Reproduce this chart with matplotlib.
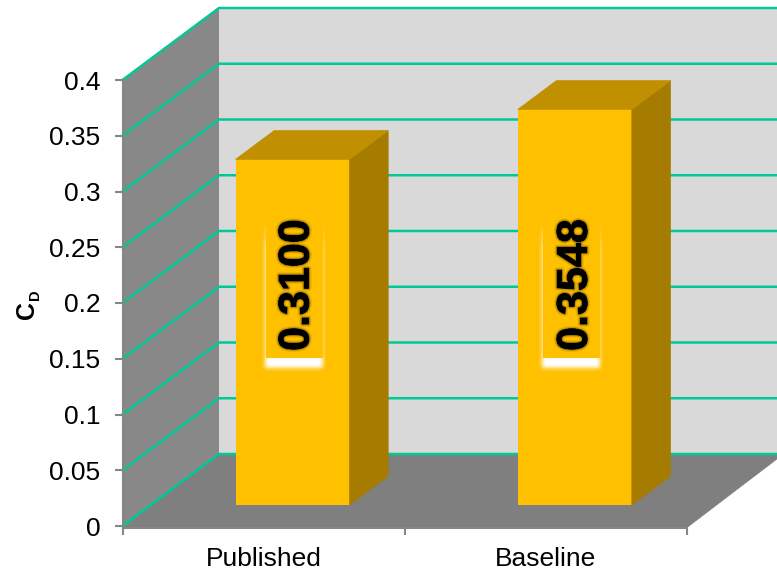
import numpy as np
import matplotlib
matplotlib.use('Agg')
import matplotlib.pyplot as plt
from matplotlib.patches import Polygon
import matplotlib.patheffects as pe

plt.rcParams['font.family'] = ['Liberation Sans', 'DejaVu Sans']

categories = ['Published', 'Baseline']
cd_values = [0.3100, 0.3548]
cd_labels = ['0.3100', '0.3548']
y_ticks = [0, 0.05, 0.1, 0.15, 0.2, 0.25, 0.3, 0.35, 0.4]
y_tick_labels = ['0', '0.05', '0.1', '0.15', '0.2', '0.25', '0.3', '0.35', '0.4']

WALL = '#888888'
FLOOR = '#7f7f7f'
BACK = '#d9d9d9'
GRID = '#00c896'
BAR = '#ffc000'
BAR_TOP = '#c09000'
BAR_SIDE = '#a67c00'
AXIS = '#868686'

fig = plt.figure(figsize=(7.77, 5.70), dpi=100)
ax = fig.add_axes([122.5 / 777, 44 / 570, 564.5 / 777, 446 / 570])
ax.patch.set_visible(False)

# size of one pixel in data units, used for the oblique depth
px_x = 1 / 282.25
px_y = 1 / 1115
DX = 96.5 * px_x
DY = 72 * px_y


def shift(x, y, d):
    return (x + d * DX, y + d * DY)


def quad(p1, p2, p3, p4, color, z):
    ax.add_patch(Polygon([p1, p2, p3, p4], closed=True, fc=color, ec=color, lw=0.5,
                         zorder=z, clip_on=False))


y_max = y_ticks[-1]

# walls and floor
quad(shift(0, 0, 0), shift(0, 0, 1), shift(0, y_max, 1), shift(0, y_max, 0), WALL, 1)
quad(shift(0, 0, 1), shift(2, 0, 1), shift(2, y_max, 1), shift(0, y_max, 1), BACK, 1)
quad(shift(0, -1.5 * px_y, 0), shift(2, -1.5 * px_y, 0), shift(2, 0, 1), shift(0, 0, 1), FLOOR, 1)

# gridlines run along the left wall and across the back
for t in y_ticks:
    x0, y0 = shift(0, t, 0)
    x1, y1 = shift(0, t, 1)
    x2, y2 = shift(2, t, 1)
    ax.plot([x0, x1, x2], [y0, y1, y2], color=GRID, lw=1.8, zorder=2, clip_on=False,
            solid_joinstyle='miter')

# bars
bar_width = 114 * px_x
front = 0.30
back = 0.70

# the labels sit slightly off the bar centres (pixels)
glow_shift = [1, -4]
text_shift = [5, 1]

for i, (value, label) in enumerate(zip(cd_values, cd_labels)):
    centre = i + 0.5
    x_left, y_base = shift(centre - bar_width / 2, 0, front)
    y_base = 21 * px_y
    x_right = x_left + bar_width
    y_top = y_base + value
    ax.bar(x_left, value, bar_width, bottom=y_base, align='edge', color=BAR, zorder=3,
           clip_on=False)
    d = back - front
    quad((x_right, y_base), (x_right + d * DX, y_base + d * DY),
         (x_right + d * DX, y_top + d * DY), (x_right, y_top), BAR_SIDE, 3)
    quad((x_left, y_top), (x_right, y_top),
         (x_right + d * DX, y_top + d * DY), (x_left + d * DX, y_top + d * DY), BAR_TOP, 3)

    # soft white frame behind the value label
    xc = x_left + bar_width / 2
    gh, gw = 170, 76
    shape = np.zeros((gh, gw))
    shape[12:152, 9:67] = np.clip(np.linspace(0.0, 4.0, 140), 0, 0.8)[:, None]
    shape[148:159, 9:67] = 1.0
    kernel = np.ones(5) / 5
    for _ in range(2):
        shape = np.apply_along_axis(np.convolve, 0, shape, kernel, mode='same')
        shape = np.apply_along_axis(np.convolve, 1, shape, kernel, mode='same')
    shape[:149, 10:67] = 0
    rgba = np.ones((gh, gw, 4))
    rgba[..., 3] = shape
    glow_bottom = (526 - 379) * px_y
    glow_x = xc + glow_shift[i] * px_x
    ax.imshow(rgba, extent=(glow_x - gw / 2 * px_x, glow_x + gw / 2 * px_x,
                            glow_bottom, glow_bottom + gh * px_y),
              aspect='auto', zorder=4, interpolation='bilinear', clip_on=False)

    ax.text(xc + text_shift[i] * px_x, 0.216, label, rotation=90, ha='center', va='center',
            fontsize=31, fontweight='bold', color='black', zorder=5,
            path_effects=[pe.withStroke(linewidth=4, foreground='#7a5c00', alpha=0.15),
                          pe.withStroke(linewidth=2.5, foreground='#5a4400', alpha=0.25),
                          pe.withStroke(linewidth=1, foreground='#000000', alpha=0.5)])

ax.set_xlim(0, 2)
ax.set_ylim(0, y_max)

for side in ['top', 'right']:
    ax.spines[side].set_visible(False)
for side in ['left', 'bottom']:
    ax.spines[side].set_color(AXIS)
    ax.spines[side].set_linewidth(1.5)
    ax.spines[side].set_zorder(2.5)
ax.spines['bottom'].set_position(('outward', 1.2))

ax.set_yticks(y_ticks)
ax.set_yticklabels(y_tick_labels, fontsize=19)
ax.tick_params(axis='y', length=6, width=1.5, color=AXIS, pad=10, labelcolor='black')
ax.set_xticks([0, 1, 2])
ax.set_xticklabels([])
ax.tick_params(axis='x', which='major', length=5, width=1.5, color=AXIS)
ax.set_xticks([0.5, 1.5], minor=True)
ax.set_xticklabels(categories, minor=True, fontsize=19)
ax.tick_params(axis='x', which='minor', length=0, pad=14)

# axis title, C with a small subscript D
fig.text(39 / 777, 1 - 319 / 570, 'C', rotation=90, fontsize=18, fontweight='bold',
         ha='right', va='bottom')
fig.text(42 / 777, 1 - 300 / 570, 'D', rotation=90, fontsize=10.5, fontweight='bold',
         ha='right', va='bottom')

fig.savefig('out.png', dpi=100)
